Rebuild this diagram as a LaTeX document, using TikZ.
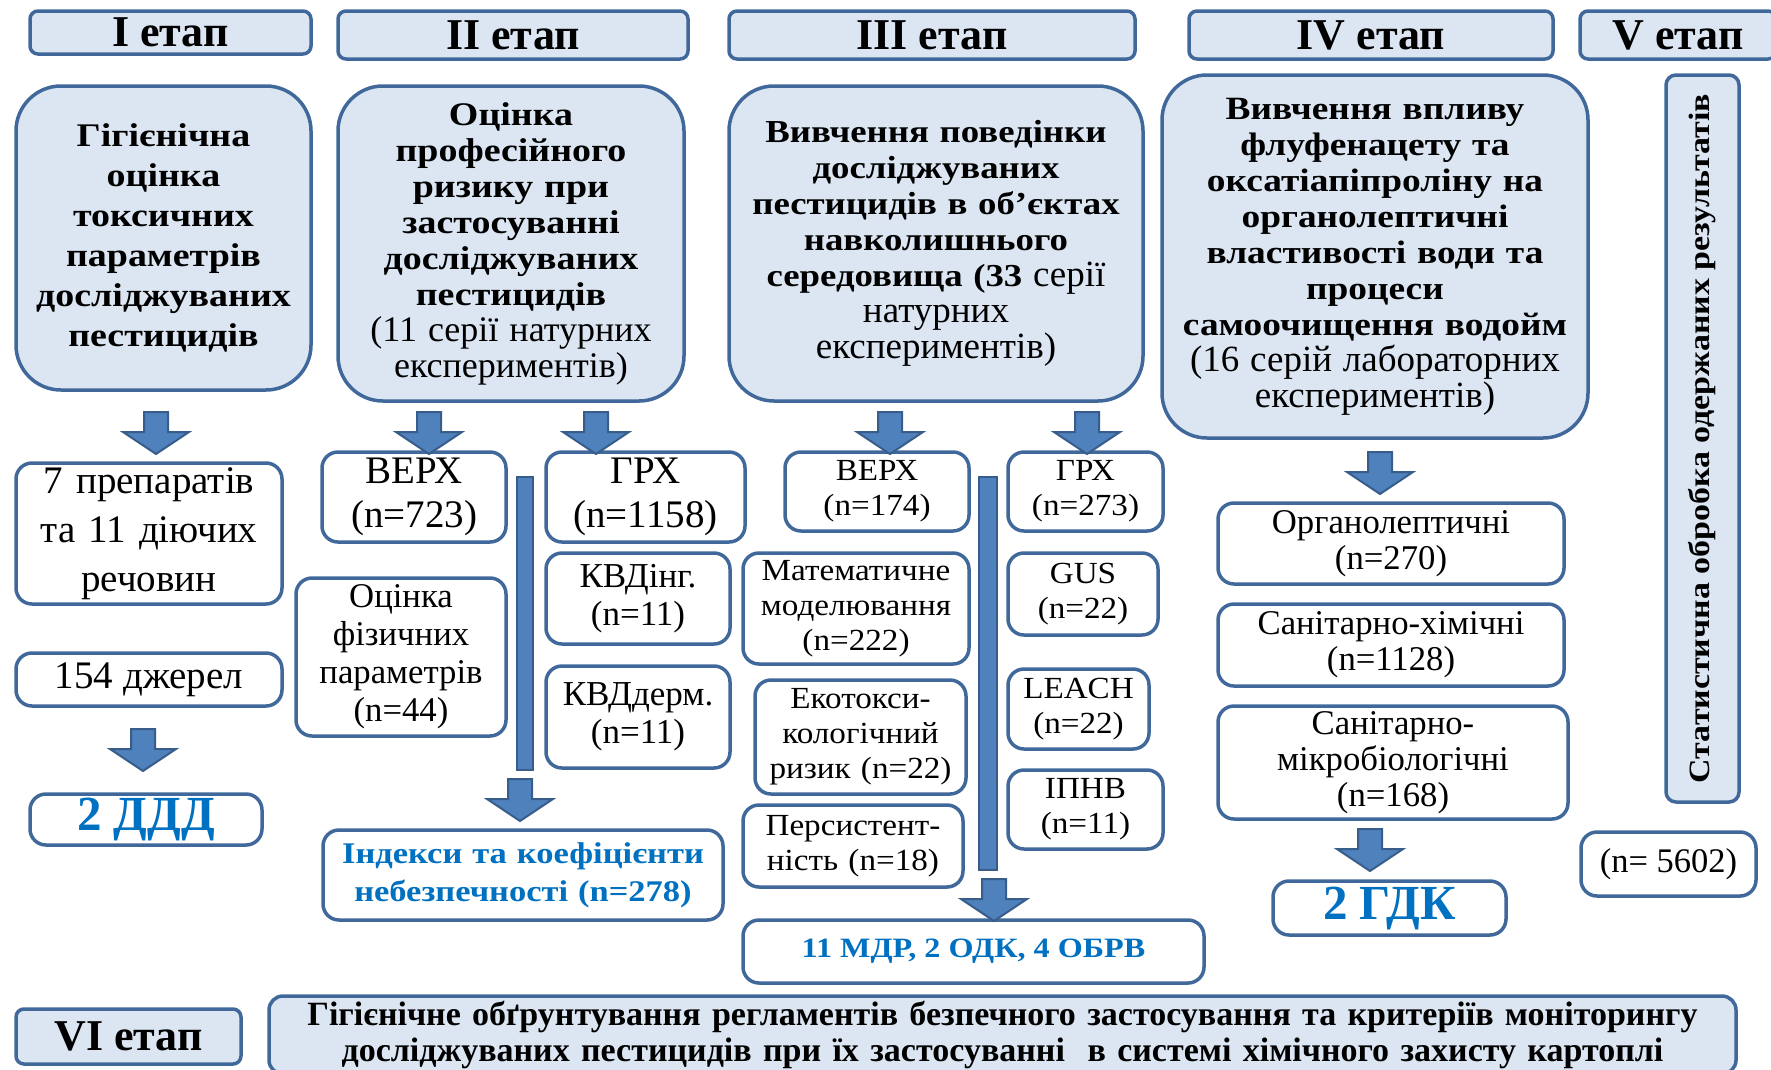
\documentclass[tikz,border=0pt]{standalone}
\usepackage{fontspec}
\setmainfont{Liberation Serif}
\newfontfamily\wideserif[FakeStretch=1.15]{Liberation Serif}
\newfontfamily\midserif[FakeStretch=1.08]{Liberation Serif}
\newcommand\fsz[2]{\fontsize{#1}{#2}\selectfont}
\definecolor{boxfill}{HTML}{DCE6F2}
\definecolor{boxline}{HTML}{41689A}
\definecolor{arrfill}{HTML}{4F81BD}
\definecolor{arrline}{HTML}{385D8A}
\definecolor{bluetext}{HTML}{0070C0}
\tikzset{
  base/.style={draw=boxline, line width=3.5pt, align=center, inner sep=0pt},
  hdr/.style={base, fill=boxfill, rounded corners=8pt, font=\bfseries\fsz{44}{48}},
  bigbox/.style={base, fill=boxfill, rounded corners=45pt},
  smallbox/.style={base, fill=white, rounded corners=16pt},
  bluebox/.style={smallbox, text=bluetext},
  barstyle/.style={fill=arrfill, draw=arrline, line width=2pt},
  pics/barrow/.style={code={
    \path[fill=arrfill, draw=arrline, line width=2pt] (-12,0) -- (12,0) -- (12,20) -- (33,20) -- (0,42) -- (-33,20) -- (-12,20) -- cycle;
  }},
}
\begin{document}
\begin{tikzpicture}[x=1pt,y=-1pt]
\useasboundingbox (0,0) rectangle (1771,1069);
\clip (0,0) rectangle (1771,1069);

% headers
\node[hdr, minimum width=281pt, minimum height=43pt] (h1) at (170.5,32.5) {I етап};
\node[hdr, minimum width=350pt, minimum height=48pt] (h2) at (513,35) {II етап};
\node[hdr, minimum width=406pt, minimum height=48pt] (h3) at (932,35) {III етап};
\node[hdr, minimum width=364pt, minimum height=48pt] (h4) at (1371,35) {IV етап};
\node[hdr, minimum width=196pt, minimum height=48pt] (h5) at (1678,35) {V етап};

% big boxes
\node[bigbox, minimum width=295pt, minimum height=304pt, text width=285pt, font=\wideserif\bfseries\fsz{33}{40}] (b1) at (163.5,238)
 {Гігієнічна\\оцінка\\токсичних\\параметрів\\досліджуваних\\пестицидів};
\node[bigbox, minimum width=346pt, minimum height=315pt, text width=336pt, font=\wideserif\bfseries\fsz{33}{36}] (b2) at (511,243.5)
 {Оцінка\\професійного\\ризику при\\застосуванні\\досліджуваних\\пестицидів\\{\rmfamily\mdseries\fsz{36}{36}(11 серії натурних\\експериментів)}};
\node[bigbox, minimum width=414pt, minimum height=315pt, text width=404pt, font=\wideserif\bfseries\fsz{32}{36}] (b3) at (936,243.5)
 {Вивчення поведінки\\досліджуваних\\пестицидів в об’єктах\\навколишнього\\середовища (33 {\rmfamily\mdseries\fsz{37}{36}серії\\натурних\\експериментів)}};
\node[bigbox, minimum width=426pt, minimum height=363pt, text width=416pt, font=\wideserif\bfseries\fsz{32.5}{36}] (b4) at (1375,256.5)
 {Вивчення впливу\\флуфенацету та\\оксатіапіпроліну на\\органолептичні\\властивості води та\\процеси\\самоочищення водойм\\{\rmfamily\mdseries\fsz{37}{36}(16 серій лабораторних\\експериментів)}};
\node[base, fill=boxfill, rounded corners=10pt, minimum width=73pt, minimum height=727pt] (vbox) at (1702.5,438.5) {};
\node[rotate=90, font=\wideserif\bfseries\fsz{29.5}{34}, inner sep=0pt] (vtext) at (vbox.center) {Статистична обробка одержаних результатів};

% stage I column
\node[smallbox, minimum width=266pt, minimum height=141pt, text width=260pt, font=\fsz{39}{49}] (s1) at (149,533.5)
 {7 препаратів\\та 11 діючих\\речовин};
\node[smallbox, minimum width=266pt, minimum height=53pt, font=\fsz{39}{44}] (s2) at (149,679.5) {154 джерел};
\node[bluebox, minimum width=232pt, minimum height=51pt, font=\bfseries\fsz{49}{50}] (s3) at (146,819.5) {2 ДДД};

% stage II column
\node[smallbox, minimum width=184pt, minimum height=90pt, text width=178pt, font=\fsz{39}{44}] (c2a) at (414,497) {ВЕРХ\\(n=723)};
\node[smallbox, minimum width=210pt, minimum height=158pt, text width=204pt, font=\fsz{34.7}{38}] (c2b) at (401,657) {Оцінка\\фізичних\\параметрів\\(n=44)};
\node[smallbox, minimum width=199pt, minimum height=90pt, text width=193pt, font=\fsz{39}{44}] (c2c) at (645.5,497) {ГРХ\\(n=1158)};
\node[smallbox, minimum width=184pt, minimum height=91pt, text width=178pt, font=\fsz{35}{38}] (c2d) at (638,598.5) {КВДінг.\\(n=11)};
\node[smallbox, minimum width=184pt, minimum height=102pt, text width=178pt, font=\fsz{35}{38}] (c2e) at (638,717) {КВДдерм.\\(n=11)};
\node[bluebox, minimum width=400pt, minimum height=90pt, text width=394pt, font=\wideserif\bfseries\fsz{30}{38}] (c2f) at (523,875)
 {Індекси та коефіцієнти\\небезпечності (n=278)};

% stage III column
\node[smallbox, minimum width=184pt, minimum height=79pt, text width=178pt, font=\midserif\fsz{30.7}{35}] (c3a) at (877,491.5) {ВЕРХ\\(n=174)};
\node[smallbox, minimum width=226pt, minimum height=111pt, text width=220pt, font=\midserif\fsz{30.7}{35}] (c3b) at (856,608.5) {Математичне\\моделювання\\(n=222)};
\node[smallbox, minimum width=211pt, minimum height=114pt, text width=205pt, font=\midserif\fsz{30.7}{35}] (c3c) at (860.5,737) {Екотокси-\\кологічний\\ризик (n=22)};
\node[smallbox, minimum width=220pt, minimum height=82pt, text width=214pt, font=\midserif\fsz{30.7}{35}] (c3d) at (853,846) {Персистент-\\ність (n=18)};
\node[smallbox, minimum width=155pt, minimum height=79pt, text width=149pt, font=\midserif\fsz{30.7}{35}] (c3e) at (1085.5,491.5) {ГРХ\\(n=273)};
\node[smallbox, minimum width=150pt, minimum height=82pt, text width=144pt, font=\midserif\fsz{30.7}{35}] (c3f) at (1083,594) {GUS\\(n=22)};
\node[smallbox, minimum width=141pt, minimum height=80pt, text width=135pt, font=\midserif\fsz{30.7}{35}] (c3g) at (1078.5,709) {LEACH\\(n=22)};
\node[smallbox, minimum width=155pt, minimum height=79pt, text width=149pt, font=\midserif\fsz{30.7}{35}] (c3h) at (1085.5,809.5) {ІПНВ\\(n=11)};
\node[bluebox, minimum width=461pt, minimum height=63pt, font=\wideserif\bfseries\fsz{28}{32}] (c3i) at (973.5,951.5) {11 МДР, 2 ОДК, 4 ОБРВ};

% stage IV column
\node[smallbox, minimum width=346pt, minimum height=81pt, text width=340pt, font=\fsz{34.7}{36}] (c4a) at (1391,543.5) {Органолептичні\\(n=270)};
\node[smallbox, minimum width=346pt, minimum height=82pt, text width=340pt, font=\fsz{34.7}{36}] (c4b) at (1391,645) {Санітарно-хімічні\\(n=1128)};
\node[smallbox, minimum width=350pt, minimum height=113pt, text width=344pt, font=\fsz{34.7}{36}] (c4c) at (1393,762.5) {Санітарно-\\мікробіологічні\\(n=168)};
\node[bluebox, minimum width=233pt, minimum height=54pt, font=\bfseries\fsz{49}{50}] (c4d) at (1389.5,908) {2 ГДК};

% stage V
\node[smallbox, minimum width=175pt, minimum height=64pt, font=\fsz{34.5}{36}] (c5) at (1668.5,864) {(n= 5602)};

% stage VI
\node[hdr, minimum width=225pt, minimum height=55pt] (h6) at (128.5,1036.5) {VI етап};
\node[base, fill=boxfill, rounded corners=14pt, minimum width=1467pt, minimum height=78pt, text width=1455pt, font=\bfseries\fsz{34}{36}] (bot) at (1002.5,1035)
 {Гігієнічне обґрунтування регламентів безпечного застосування та критеріїв моніторингу\\досліджуваних пестицидів при їх застосуванні\ \ в системі хімічного захисту картоплі};

% bars
\path[barstyle] (517,477) rectangle (533,770);
\path[barstyle] (979,477) rectangle (997,870);

% block arrows
\pic at (156,412) {barrow};
\pic at (429,412) {barrow};
\pic at (596,412) {barrow};
\pic at (890,412) {barrow};
\pic at (1087,412) {barrow};
\pic at (1380,452) {barrow};
\pic at (143,729) {barrow};
\pic at (520,779) {barrow};
\pic at (994,879) {barrow};
\pic at (1370,829) {barrow};
\end{tikzpicture}
\end{document}
